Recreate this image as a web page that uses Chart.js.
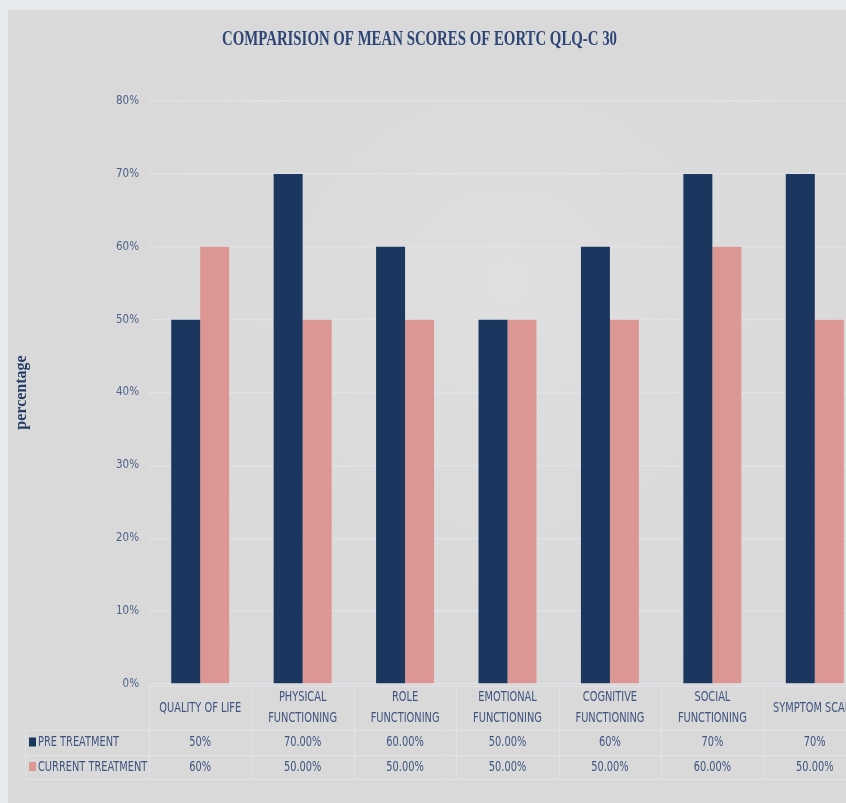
<!DOCTYPE html>
<html>
<head>
<meta charset="utf-8">
<script src="https://cdn.jsdelivr.net/npm/chart.js@4"></script>
<style>
  html, body { margin: 0; padding: 0; overflow: hidden; background: #d9d9d9; }
  #wrap { width: 870px; height: 803px; }
</style>
</head>
<body>
<div id="wrap"><canvas id="bar-chart"></canvas></div>
<script>
const categories = [
    ['QUALITY OF LIFE'],
    ['PHYSICAL', 'FUNCTIONING'],
    ['ROLE', 'FUNCTIONING'],
    ['EMOTIONAL', 'FUNCTIONING'],
    ['COGNITIVE', 'FUNCTIONING'],
    ['SOCIAL', 'FUNCTIONING'],
    ['SYMPTOM SCALE']
]
const preTreatment = [50, 70, 60, 50, 60, 70, 70]
const currentTreatment = [60, 50, 50, 50, 50, 60, 50]
// decimals shown in the data table under the chart
const preDecimals = [0, 2, 2, 2, 0, 0, 0]
const currentDecimals = [0, 2, 2, 2, 2, 2, 2]
const seriesNames = ['PRE TREATMENT', 'CURRENT TREATMENT']
const titleText = 'COMPARISION OF MEAN SCORES OF EORTC QLQ-C 30'

const navy = '#1b365f'
const pink = '#dc9694'
const textBlue = '#3f5580'
const narrow = '"Liberation Sans Narrow", "DejaVu Sans Condensed", sans-serif'

// draw text squeezed sideways, like the narrow font of the original
function narrowText(c, txt, x, y, align, squeeze) {
    const w = c.measureText(txt).width * squeeze
    let left = x
    if (align === 'center') left = x - w / 2
    c.save()
    c.textAlign = 'left'
    c.translate(left, y)
    c.scale(squeeze, 1)
    c.fillText(txt, 0, 0)
    c.restore()
}

const backdrop = {
    id: 'backdrop',
    beforeDraw(chart) {
        const c = chart.ctx
        const a = chart.chartArea
        c.save()
        c.fillStyle = '#e6eaec'
        c.fillRect(0, 0, chart.width, chart.height)
        c.fillStyle = '#d9d9d9'
        c.fillRect(8, 10, chart.width, chart.height)
        const g = c.createRadialGradient((a.left + a.right) / 2, a.top + 180, 20, (a.left + a.right) / 2, a.top + 250, 480)
        g.addColorStop(0, '#dfdfdf')
        g.addColorStop(1, 'rgba(217,217,217,0)')
        c.fillStyle = g
        c.fillRect(a.left, a.top - 20, a.right - a.left, a.bottom - a.top + 20)
        c.restore()
    }
}

const titleAndTable = {
    id: 'titleAndTable',
    afterDraw(chart) {
        const c = chart.ctx
        const x = chart.scales.x
        const a = chart.chartArea
        c.save()

        // condensed serif title
        c.font = 'bold 22px "Liberation Serif", serif'
        c.fillStyle = '#2d4677'
        c.textBaseline = 'alphabetic'
        c.textAlign = 'left'
        const tw = c.measureText(titleText).width
        c.translate(222, 45)
        c.scale(395 / tw, 1)
        c.fillText(titleText, 0, 0)
        c.setTransform(1, 0, 0, 1, 0, 0)

        // data table
        const colW = x.width / categories.length
        const top = a.bottom + 2
        const rows = [top, top + 44, top + 69, top + 93]
        const tableLeft = 25
        c.strokeStyle = 'rgba(236,238,243,0.45)'
        c.lineWidth = 1
        c.beginPath()
        rows.forEach((ry, i) => {
            c.moveTo(i === 0 ? a.left : tableLeft, ry + 0.5)
            c.lineTo(chart.width, ry + 0.5)
        })
        for (let i = 0; i <= categories.length; i++) {
            const vx = Math.round(a.left + i * colW) + 0.5
            c.moveTo(vx, rows[0])
            c.lineTo(vx, rows[3])
        }
        c.moveTo(tableLeft + 0.5, rows[1])
        c.lineTo(tableLeft + 0.5, rows[3])
        c.stroke()

        c.fillStyle = textBlue
        c.textBaseline = 'middle'
        c.font = '14px ' + narrow
        const sq = 0.78
        categories.forEach((lines, i) => {
            const cx = x.getPixelForValue(i)
            const mid = (rows[0] + rows[1]) / 2
            lines.forEach((ln, j) => {
                narrowText(c, ln, cx, mid + (j - (lines.length - 1) / 2) * 21, 'center', sq)
            })
            narrowText(c, preTreatment[i].toFixed(preDecimals[i]) + '%', cx, (rows[1] + rows[2]) / 2, 'center', sq)
            narrowText(c, currentTreatment[i].toFixed(currentDecimals[i]) + '%', cx, (rows[2] + rows[3]) / 2, 'center', sq)
        })

        // row headers with legend keys
        const keyColors = [navy, pink]
        seriesNames.forEach((name, i) => {
            const cy = (rows[i + 1] + rows[i + 2]) / 2
            c.fillStyle = keyColors[i]
            c.fillRect(29, cy - 5, 7, 9)
            c.fillStyle = textBlue
            narrowText(c, name, 38, cy, 'left', sq)
        })
        c.restore()
    }
}

new Chart(document.getElementById('bar-chart'), {
    type: 'bar',
    data: {
        labels: categories,
        datasets: [
            { label: seriesNames[0], data: preTreatment, backgroundColor: navy },
            { label: seriesNames[1], data: currentTreatment, backgroundColor: pink }
        ]
    },
    options: {
        responsive: true,
        maintainAspectRatio: false,
        animation: false,
        layout: { padding: { top: 101, right: 4, left: 0, bottom: 0 } },
        datasets: { bar: { barPercentage: 1, categoryPercentage: 0.566 } },
        plugins: {
            legend: { display: false },
            title: { display: false },
            tooltip: { enabled: false }
        },
        scales: {
            x: {
                grid: { display: false },
                border: { display: false },
                ticks: { display: false },
                afterFit: s => { s.height = 119 }
            },
            y: {
                min: 0,
                max: 80,
                ticks: {
                    stepSize: 10,
                    padding: 10,
                    color: '#4d6189',
                    font: { family: narrow, size: 11.5 },
                    callback: v => v + '%'
                },
                grid: { color: '#e1e2e8', lineWidth: 1.5, drawTicks: false },
                border: { display: false },
                title: {
                    display: true,
                    text: 'percentage',
                    color: '#263d66',
                    font: { family: '"Liberation Serif", serif', size: 16, weight: 'bold' },
                    padding: { top: 12, bottom: 0 }
                },
                afterFit: s => { s.width = 149 }
            }
        }
    },
    plugins: [backdrop, titleAndTable]
})
</script>
</body>
</html>
